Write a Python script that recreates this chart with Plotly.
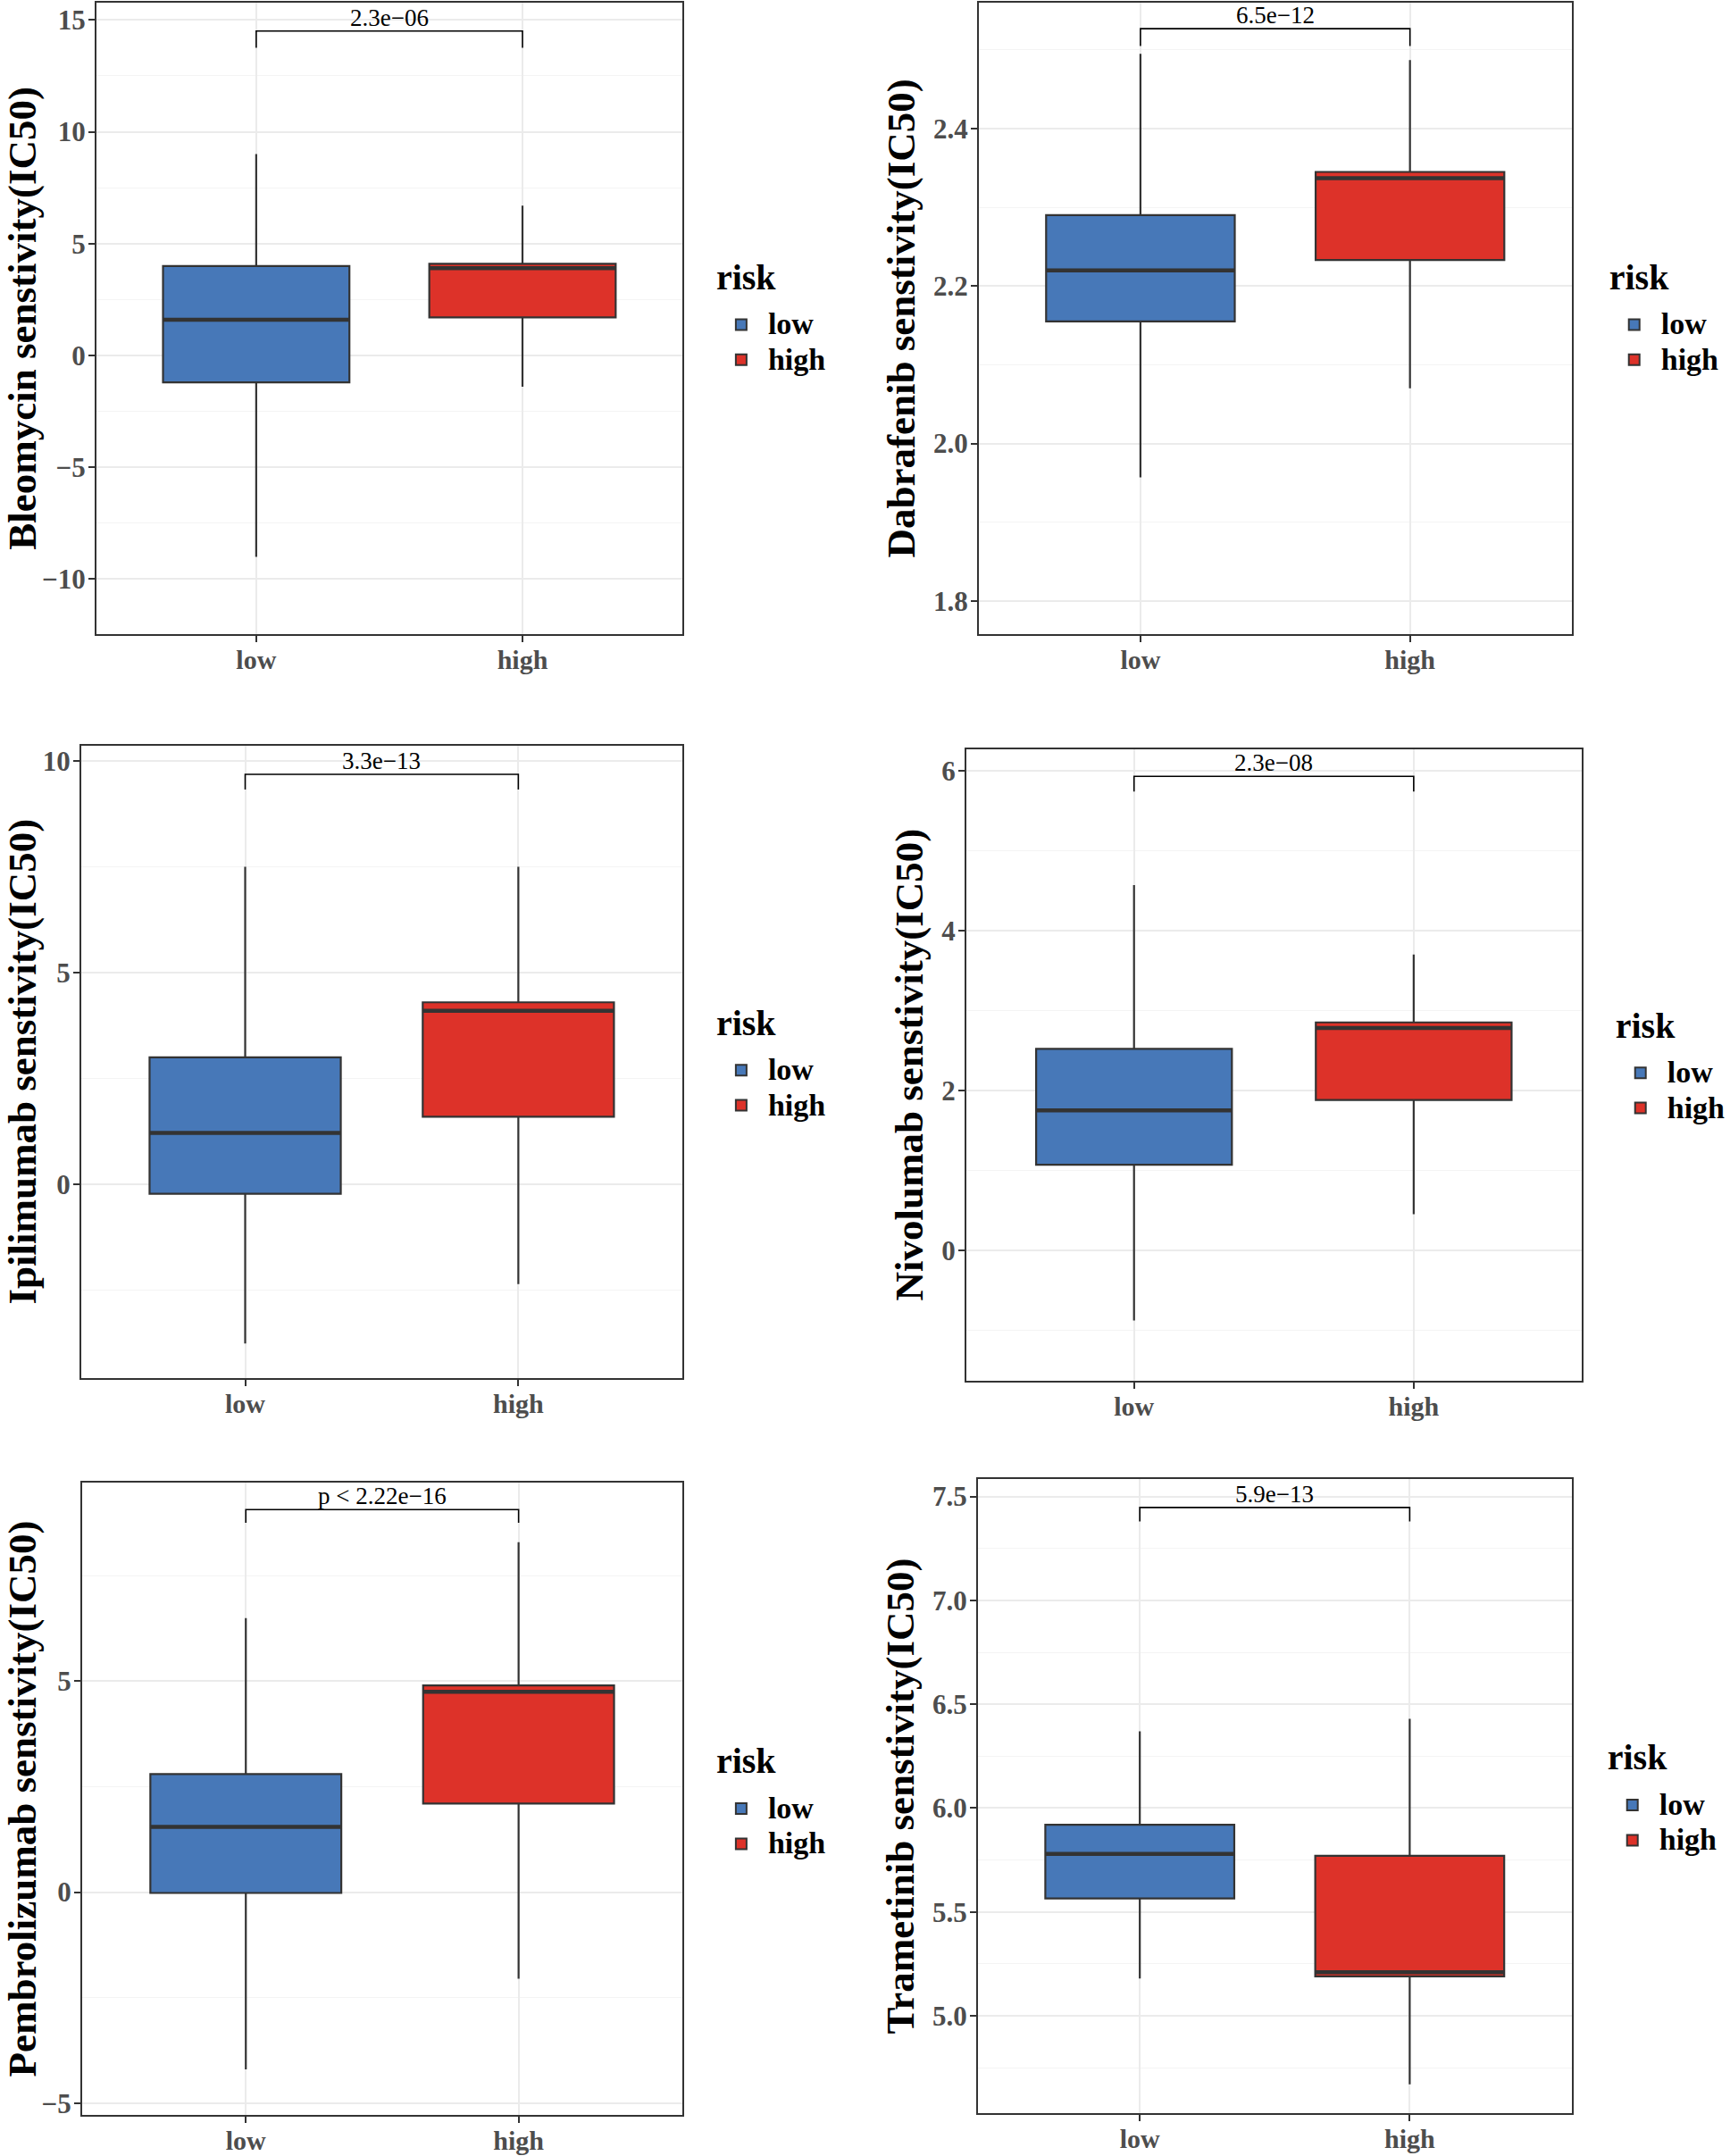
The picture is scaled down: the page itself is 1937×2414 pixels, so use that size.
import plotly.graph_objects as go

groups = ["low", "high"]
drugs = ["Bleomycin", "Dabrafenib", "Ipilimumab", "Nivolumab", "Pembrolizumab", "Trametinib"]
p_labels = ["2.3e\u221206", "6.5e\u221212", "3.3e\u221213", "2.3e\u221208", "p < 2.22e\u221216", "5.9e\u221213"]

# box statistics per drug: [low, high]
q1 = [[-1.2, 1.7], [2.155, 2.233], [-0.22, 1.6], [1.07, 1.88], [-0.02, 2.1], [5.565, 5.19]]
med = [[1.6, 3.9], [2.22, 2.337], [1.22, 4.1], [1.75, 2.78], [1.55, 4.75], [5.78, 5.21]]
q3 = [[4.0, 4.1], [2.29, 2.345], [3.0, 4.3], [2.52, 2.85], [2.8, 4.9], [5.92, 5.77]]
lo = [[-9.0, -1.4], [1.957, 2.07], [-3.75, -2.35], [-0.88, 0.45], [-4.2, -2.05], [5.18, 4.67]]
hi = [[9.0, 6.7], [2.495, 2.487], [7.5, 7.5], [4.57, 3.7], [6.5, 8.3], [6.37, 6.43]]

# bracket heights (top, tick end)
br_top = [14.5, 2.527, 9.68, 5.93, 9.07, 7.447]
br_end = [13.75, 2.505, 9.32, 5.74, 8.76, 7.38]

y_ranges = [[-12.45, 15.77], [1.758, 2.56], [-4.56, 10.36], [-1.63, 6.27], [-5.29, 9.72], [4.53, 7.586]]
y_dtick = [5, 0.2, 5, 2, 5, 0.5]
y_fmt = ["", ".1f", "", "", "", ".1f"]

colors = {"low": "#4778B8", "high": "#DD3229"}

W, H = 1937, 2414
S = 1.0014
# plot areas in page pixels: (left, right, top, bottom)
areas = [
    (108, 764, 3, 710),
    (1096, 1760, 3, 710),
    (91, 764, 835, 1543),
    (1082, 1771, 839, 1546),
    (92, 764, 1660, 2369),
    (1095, 1760, 1656, 2367),
]
legend_pos = [(800, 279), (1800, 279), (800, 1114), (1807, 1117), (800, 1941), (1798, 1937)]

SERIF = "Liberation Serif"
fig = go.Figure()
layout = dict(width=W, height=H, margin=dict(l=0, r=0, t=0, b=0),
              paper_bgcolor="white", plot_bgcolor="white", boxmode="overlay",
              showlegend=True)

for i in range(6):
    n = "" if i == 0 else str(i + 1)
    xa, ya = "x" + n, "y" + n
    lg = "legend" + n
    for j, g in enumerate(groups):
        fig.add_trace(go.Box(
            x=[g], q1=[q1[i][j]], median=[med[i][j]], q3=[q3[i][j]],
            lowerfence=[lo[i][j]], upperfence=[hi[i][j]],
            name='<span style="font-size:34px">' + g + '</span>',
            fillcolor=colors[g], line=dict(color="#333333", width=2.2),
            width=0.7, whiskerwidth=0, boxpoints=False,
            xaxis=xa, yaxis=ya, legend=lg, hoverinfo="skip"))
    # thicker median bars (ggplot fatten)
    for j, g in enumerate(groups):
        fig.add_trace(go.Box(
            x=[g], q1=[med[i][j]], median=[med[i][j]], q3=[med[i][j]],
            lowerfence=[med[i][j]], upperfence=[med[i][j]],
            name=g, fillcolor="rgba(0,0,0,0)", line=dict(color="#333333", width=4.5),
            width=0.7, whiskerwidth=0, boxpoints=False, showlegend=False,
            xaxis=xa, yaxis=ya, hoverinfo="skip"))
    fig.add_trace(go.Scatter(
        x=[groups[0], groups[0], groups[1], groups[1]],
        y=[br_end[i], br_top[i], br_top[i], br_end[i]],
        mode="lines", line=dict(color="black", width=1.6),
        showlegend=False, hoverinfo="skip", xaxis=xa, yaxis=ya))
    fig.add_annotation(x=0.5, y=br_top[i], xref=xa, yref=ya, text=p_labels[i],
                       showarrow=False, yanchor="bottom", yshift=-2,
                       font=dict(family=SERIF, size=27, color="black"))
    l, r, t, b = [v * S for v in areas[i]]
    axis_common = dict(showline=True, linecolor="#333333", linewidth=2, mirror=True,
                       ticks="outside", ticklen=7, tickwidth=2, tickcolor="#333333",
                       showgrid=True, gridcolor="#EBEBEB", gridwidth=2, zeroline=False,
                       ticklabeloverflow="allow")
    layout["xaxis" + n] = dict(domain=[l / W, min(1, r / W)], anchor=ya,
                               type="category", categoryorder="array", categoryarray=groups,
                               range=[-0.6, 1.6], ticklabelstandoff=-6,
                               tickfont=dict(family=SERIF, size=30, color="#4D4D4D", weight="bold"),
                               **axis_common)
    layout["yaxis" + n] = dict(domain=[max(0, 1 - b / H), 1 - t / H], anchor=xa,
                               range=y_ranges[i], dtick=y_dtick[i], tick0=0,
                               tickformat=y_fmt[i], ticklabelstandoff=-3,
                               tickfont=dict(family=SERIF, size=31, color="#4D4D4D", weight="bold"),
                               minor=dict(dtick=y_dtick[i] / 2, tick0=0, showgrid=True,
                                          gridcolor="#F4F4F4", gridwidth=1, ticks=""),
                               title=dict(text=drugs[i] + " senstivity(IC50)", standoff=6,
                                          font=dict(family=SERIF, size=45, color="black",
                                                    weight="bold")),
                               **axis_common)
    lx, ly = legend_pos[i]
    layout[lg] = dict(x=lx * S / W, y=1 - ly * S / H, xanchor="left", yanchor="top",
                      xref="paper", yref="paper", bgcolor="rgba(0,0,0,0)",
                      title=dict(text='<span style="font-size:40px;baseline-shift:15px">risk</span>',
                                 font=dict(family=SERIF, size=46, color="black",
                                           weight="bold"), side="top"),
                      font=dict(family=SERIF, size=28, color="black", weight="bold"),
                      itemsizing="constant", itemwidth=50, tracegroupgap=0)

fig.update_layout(**layout)
fig.write_html("out.html", config={"displayModeBar": False},
               post_script="document.body.style.margin='0px';")
